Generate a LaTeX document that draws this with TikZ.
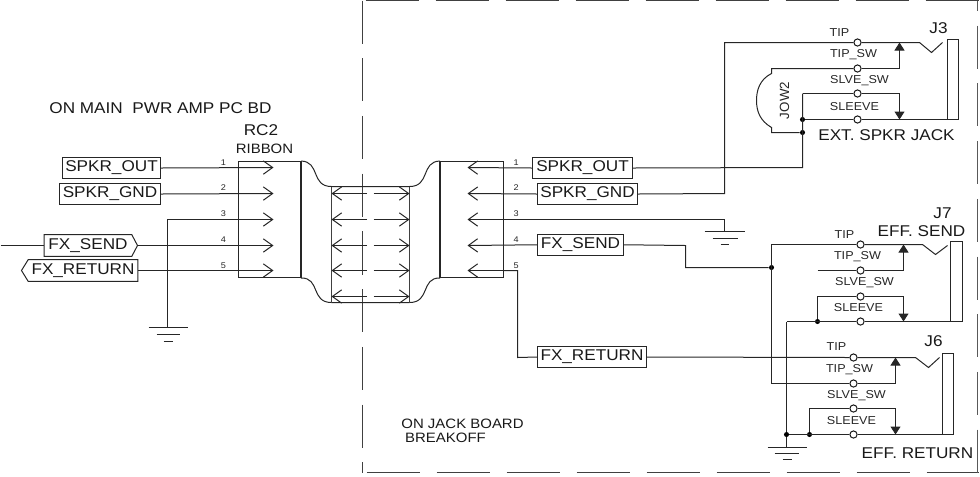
\documentclass[tikz,border=0pt]{standalone}
\usepackage{fontspec}
\setmainfont[FakeStretch=1.1]{Liberation Sans}
\newfontfamily\plainsans{Liberation Sans}
\usetikzlibrary{arrows.meta}
\newcommand\fbig{\fontsize{11.7}{13}\selectfont}
\newcommand\fsmall{\fontsize{8.6}{10}\selectfont}
\newcommand\fmid{\fontsize{10.2}{12}\selectfont}
\newcommand\fpin{\fontsize{6.2}{7}\selectfont}
\newcommand\lblbox[6]{\node[lbl,minimum width={(#4-#2)*0.75pt},minimum height={(#5-#3)*0.75pt}] (#1) at ({(#2+#4)/2},{(#3+#5)/2}) {#6};}
\tikzset{
  wire/.style={line width=0.75pt,draw=black!85},
  thick wire/.style={line width=1pt,draw=black!85},
  frame/.style={line width=0.8pt,draw=black!75},
  lbl/.style={draw=black!85,line width=0.75pt,inner sep=0pt,font=\fbig,text=black!90},
  plain/.style={inner sep=0pt,font=\fbig,text=black!90},
  small/.style={inner sep=0pt,font=\fsmall,text=black!85},
  pin/.style={inner sep=0pt,font=\fpin,text=black!85},
  term/.style={circle,draw=black!90,line width=0.75pt,fill=white,inner sep=0pt,minimum size=5.4pt},
  dot/.style={circle,fill=black,inner sep=0pt,minimum size=3.8pt},
  barb/.style={wire,-{Straight Barb[length=7pt,width=10pt]}},
  fill tip/.style={wire,-{Triangle[length=6pt,width=7.5pt]}},
  gnd line/.style={line width=0.75pt,draw=black!85}
}
\begin{document}
\begin{tikzpicture}[x=0.75pt,y=-0.75pt]
\useasboundingbox (0,0) rectangle (980,476);
\begin{scope}[shift={(0.5,0.5)}]
% board boundary
\coordinate (bTopL) at (365,0.1); \coordinate (bTopR) at (978,0.1);
\coordinate (bBotL) at (366,472); \coordinate (bBotR) at (978,472);
\coordinate (bRT) at (977,0); \coordinate (bRB) at (977,476);
\coordinate (bCT) at (362,0); \coordinate (bCB) at (362,472);
\draw[frame,dash pattern=on 39.75pt off 12.75pt] (bTopL) -- (bTopR);
\draw[frame,dash pattern=on 39.75pt off 12.75pt] (bBotL) -- (bBotR);
\draw[line width=1.2pt,draw=black!65,dash pattern=on 32.3pt off 11pt,dash phase=24.5pt] (bRT) -- (bRB);
\draw[frame,dash pattern=on 32.3pt off 11pt] (bCT) -- (bCB);
% ribbon connector bodies
\lblbox{rcl}{238}{161}{300}{277}{}
\lblbox{rcr}{440}{161}{503}{277}{}
\draw[thick wire] (rcl.north east) -- (rcl.south east);
\draw[thick wire] (rcr.north west) -- (rcr.south west);
\coordinate (mTL) at (331,186); \coordinate (mTR) at (409,186);
\coordinate (mBL) at (331,302); \coordinate (mBR) at (409,302);
\draw[wire] (rcl.north east) .. controls (320,161) and (310,186) .. (mTL) -- (mTR)
  .. controls (430,186) and (420,161) .. (rcr.north west);
\draw[wire] (rcl.south east) .. controls (320,277) and (310,302) .. (mBL) -- (mBR)
  .. controls (430,302) and (420,277) .. (rcr.south west);
\draw[line width=1.1pt,draw=black!75] (mTL) -- (mBL);
\draw[line width=1.1pt,draw=black!75] (mTR) -- (mBR);
\foreach \i/\y in {1/193,2/219,3/245,4/270,5/296}{
  \coordinate (mL\i) at (331,\y); \coordinate (mR\i) at (409,\y);
  \coordinate (gL\i) at (366.5,\y); \coordinate (gR\i) at (373,\y);
  \draw[barb] (gL\i) -- (mL\i);
  \draw[barb] (gR\i) -- (mR\i);
}
\foreach \i/\y in {1/167,2/193,3/219,4/245,5/270}{
  \coordinate (lt\i) at (273,\y);
  \coordinate (rt\i) at (467,\y);
  \coordinate (rs\i) at (503,\y);
}
\foreach \i/\y in {1/161.7,2/187.5,3/213.5,4/239,5/265}{
  \node[pin] (pl\i) at (223,\y) {\i};
  \node[pin] (pr\i) at (515.7,\y) {\i};
}
% left labels
\lblbox{lso}{62}{157}{160}{178}{SPKR\_OUT}
\lblbox{lsg}{59}{183}{160}{204}{SPKR\_GND}
\node[plain,minimum width=65.25pt,minimum height=16pt] (lfs) at (87.5,245) {FX\_SEND};
\node[plain,minimum width=81.75pt,minimum height=16pt] (lfr) at (82.5,270) {FX\_RETURN};
\coordinate (lfsTip) at (137,245); \coordinate (lfrTip) at (21,270);
\draw[wire] (lfs.north west) -- (lfs.north east) -- (lfsTip) -- (lfs.south east) -- (lfs.south west) -- cycle;
\draw[wire] (lfr.north east) -- (lfr.north west) -- (lfrTip) -- (lfr.south west) -- (lfr.south east) -- cycle;
\coordinate (inL) at (0,245);
\draw[wire] (inL) -- (lfs.west);
\draw[barb] (lso.east) -- (lt1);
\draw[barb] (lsg.east) -- (lt2);
\draw[barb] (lfsTip) -- (lt4);
\draw[barb] (lfr.east) -- (lt5);
% left ground
\coordinate (g1) at (167,327);
\coordinate (g1w) at (167,219);
\draw[barb] (g1) -- (g1w) -- (lt3);
\draw[gnd line] (148,327) -- (187,327) (156,334) -- (179,334) (163,341) -- (172,341);
% right labels
\lblbox{rso}{532}{157}{632}{178}{SPKR\_OUT}
\lblbox{rsg}{537}{183}{637}{204}{SPKR\_GND}
\lblbox{rfs}{537}{233.5}{623}{255}{FX\_SEND}
\lblbox{rfr}{537}{346}{646}{367}{FX\_RETURN}
\draw[barb] (rso.west) -- (rt1);
\draw[barb] (rsg.west) -- (rt2);
\draw[barb] (rfs.west) -- (rt4);
\coordinate (g2) at (724,219); \coordinate (g2b) at (724,231);
\draw[barb] (g2b) -- (g2) -- (rt3);
\draw[gnd line] (704,231) -- (744,231) (712,238) -- (737,238) (720,244) -- (728,244);
\draw[barb] (rs5) -- (rt5);
\coordinate (p5a) at (517,270); \coordinate (p5b) at (517,357);
\draw[wire] (rs5) -- (p5a) -- (p5b) -- (rfr.west);
% ---- J3
\node[term] (j3a) at (857,42) {};
\node[term] (j3b) at (857,68) {};
\node[term] (j3c) at (857,93) {};
\node[term] (j3d) at (857,119) {};
\node[dot] (j3e) at (802,119) {};
\node[dot] (j3f) at (802,132) {};
\node[small] (j3t1) at (839,32) {TIP};
\node[small] (j3t2) at (853,54) {TIP\_SW};
\node[small] (j3t3) at (859,80) {SLVE\_SW};
\node[small] (j3t4) at (854,106) {SLEEVE};
\node[plain] (j3n) at (938,28) {J3};
\node[plain] (j3l) at (886,135) {EXT. SPKR JACK};
\node[small,font=\plainsans\fontsize{10}{11}\selectfont,rotate=90] (jow) at (784,100) {JOW2};
\draw[wire] (947,39) rectangle (958,119);
\draw[wire] (rsg.east) -- (724,193) -- (724,42) -- (j3a.west);
\draw[wire] (j3a.east) -- (919,42) -- (931,52) -- (942,42);
\draw[fill tip] (j3b.east) -- (899,68) -- (899,42);
\draw[fill tip] (j3c.east) -- (899,93) -- (899,119);
\draw[wire] (j3d.east) -- (958,119);
\draw[wire] (j3e) -- (j3d.west);
\draw[wire] (802,93) -- (j3c.west);
\draw[wire] (802,93) -- (802,167) -- (rso.east);
\draw[wire] (j3b.west) -- (771,68) -- (771,73) .. controls (759,79) and (756,90) .. (756,100)
  .. controls (756,110) and (759,120) .. (771,127) -- (771,132) -- (j3f);
% ---- J7
\node[term] (j7a) at (860,244) {};
\node[term] (j7b) at (860,270) {};
\node[term] (j7c) at (860,296) {};
\node[term] (j7d) at (860,321) {};
\node[dot] (j7e) at (817,321) {};
\node[dot] (j7f) at (771,267) {};
\node[small] (j7t1) at (844,234) {TIP};
\node[small] (j7t2) at (857,256) {TIP\_SW};
\node[small] (j7t3) at (864,282) {SLVE\_SW};
\node[small] (j7t4) at (858,307) {SLEEVE};
\node[plain] (j7n) at (942,213) {J7};
\node[plain] (j7l) at (921,231) {EFF. SEND};
\draw[wire] (950,241) rectangle (962,321);
\draw[wire] (rfs.east) -- (685,245) -- (685,267) -- (j7f);
\draw[wire] (j7a.west) -- (771,244) -- (771,383);
\draw[wire] (j7a.east) -- (922,244) -- (935,254) -- (947,245);
\draw[wire] (817,270) -- (j7b.west);
\draw[fill tip] (j7b.east) -- (903,270) -- (903,244);
\draw[fill tip] (j7c.east) -- (903,296) -- (903,321);
\draw[wire] (j7c.west) -- (817,296) -- (j7e);
\draw[wire] (j7d.east) -- (962,321);
\draw[wire] (j7d.west) -- (786,321);
% ---- J6
\node[term] (j6a) at (853,357) {};
\node[term] (j6b) at (853,383) {};
\node[term] (j6c) at (853,408) {};
\node[term] (j6d) at (853,434) {};
\node[dot] (j6e) at (809,434) {};
\node[dot] (j6f) at (786,434) {};
\node[small] (j6t1) at (836,346) {TIP};
\node[small] (j6t2) at (849,369) {TIP\_SW};
\node[small] (j6t3) at (856,395) {SLVE\_SW};
\node[small] (j6t4) at (851,420) {SLEEVE};
\node[plain] (j6n) at (933,341) {J6};
\node[plain] (j6l) at (917,453) {EFF. RETURN};
\draw[wire] (942,353) rectangle (953,434);
\draw[wire] (rfr.east) -- (j6a.west);
\draw[wire] (j6a.east) -- (915,357) -- (928,367) -- (939,357);
\draw[wire] (771,383) -- (j6b.west);
\draw[fill tip] (j6b.east) -- (895,383) -- (895,357);
\draw[fill tip] (j6c.east) -- (895,408) -- (895,434);
\draw[wire] (j6c.west) -- (809,408) -- (j6e);
\draw[wire] (j6d.east) -- (953,434);
\draw[wire] (j6d.west) -- (j6f);
\draw[wire] (786,321) -- (j6f) -- (786,447);
\draw[gnd line] (767,447) -- (806,447) (774,453) -- (798,453) (782,459) -- (791,459);
% captions
\node[plain] (t1) at (160,107.5) {ON MAIN\ \ PWR AMP PC BD};
\node[plain] (t2) at (260.5,130) {RC2};
\node[plain,font=\fmid] (t3) at (264,148.5) {RIBBON};
\node[plain,font=\fmid] (t4) at (462,423) {ON JACK BOARD};
\node[plain,font=\fmid] (t5) at (445,437) {BREAKOFF};
\end{scope}
\end{tikzpicture}
\end{document}
